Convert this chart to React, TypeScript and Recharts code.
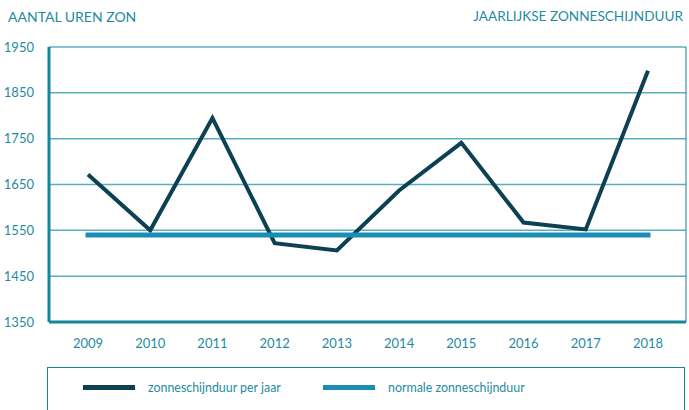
import type { ReactElement } from "react";
import { LineChart, Line, XAxis, YAxis, CartesianGrid } from "recharts";

const years = ["2009", "2010", "2011", "2012", "2013", "2014", "2015", "2016", "2017", "2018"];
const perJaar = [1672, 1550, 1795, 1522, 1506, 1637, 1741, 1567, 1552, 1898];
const normaal = [1540, 1540, 1540, 1540, 1540, 1540, 1540, 1540, 1540, 1540];
const yTicks = [1350, 1450, 1550, 1650, 1750, 1850, 1950];

const TEAL_TEXT = "#1f8b9f";
const AXIS = "#15869a";
const GRID = "#5aafbd";

const series = [
    { key: "perJaar", name: "zonneschijnduur per jaar", color: "#0c4052", width: 4 },
    { key: "normaal", name: "normale zonneschijnduur", color: "#1b8db4", width: 5 },
];

const data = years.map((year, i) => ({ year, perJaar: perJaar[i], normaal: normaal[i] }));

const FONT = "Lato, 'Open Sans', sans-serif";

export default function App(): ReactElement {
    return (
        <div style={{ position: "absolute", left: 0, top: 0, width: 689, height: 410, background: "#fff", fontFamily: FONT, overflow: "hidden" }}>
            <div style={{ position: "absolute", left: 8, top: 8, fontSize: 14, color: TEAL_TEXT }}>AANTAL UREN ZON</div>
            <div style={{ position: "absolute", right: 6, top: 8, fontSize: 13.6, color: TEAL_TEXT }}>JAARLIJKSE ZONNESCHIJNDUUR</div>

            <LineChart width={689} height={360} data={data} margin={{ top: 47, right: 0, left: 0, bottom: 0 }} style={{ position: "absolute", left: 0, top: 0 }}>
                <CartesianGrid horizontal vertical={false} stroke={GRID} strokeWidth={1.5} />
                <XAxis
                    dataKey="year"
                    height={38}
                    padding={{ left: 39, right: 38 }}
                    axisLine={{ stroke: AXIS, strokeWidth: 3 }}
                    tickLine={false}
                    tick={{ fill: TEAL_TEXT, fontSize: 13, fontFamily: FONT }}
                    tickMargin={11}
                />
                <YAxis
                    domain={[1350, 1950]}
                    ticks={yTicks}
                    width={49}
                    axisLine={{ stroke: AXIS, strokeWidth: 3 }}
                    tickLine={false}
                    tick={{ fill: TEAL_TEXT, fontSize: 13, fontFamily: FONT }}
                    tickMargin={9}
                />
                <YAxis yAxisId="r" orientation="right" width={3} domain={[1350, 1950]} tick={false} tickLine={false} axisLine={{ stroke: AXIS, strokeWidth: 1 }} />
                {series.map((s) => (
                    <Line
                        key={s.key}
                        dataKey={s.key}
                        name={s.name}
                        stroke={s.color}
                        strokeWidth={s.width}
                        dot={false}
                        type="linear"
                        strokeLinejoin="miter"
                        strokeLinecap={s.key === "normaal" ? "square" : "butt"}
                        isAnimationActive={false}
                    />
                ))}
            </LineChart>

            <div style={{ position: "absolute", left: 47, top: 367, width: 638, height: 60, border: `1.5px solid ${AXIS}`, boxSizing: "border-box" }}>
                {series.map((s, i) => (
                    <div key={s.key} style={{ position: "absolute", left: i === 0 ? 35 : 275, top: 12, display: "flex", alignItems: "center" }}>
                        <div style={{ width: 52, height: 5, background: s.color }} />
                        <span style={{ marginLeft: 13, fontSize: 12.4, color: TEAL_TEXT }}>{s.name}</span>
                    </div>
                ))}
            </div>
        </div>
    );
}
